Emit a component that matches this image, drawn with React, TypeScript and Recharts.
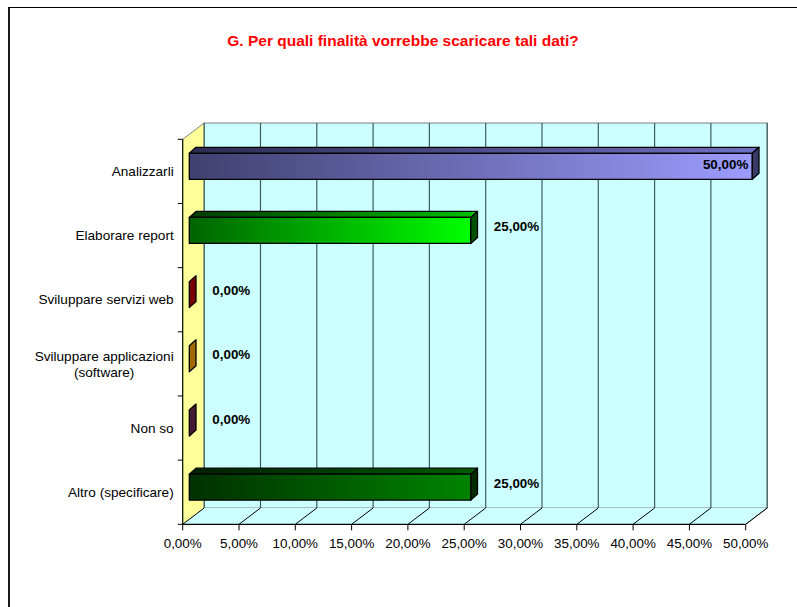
import React from "react";
import { BarChart, Bar, XAxis, YAxis, ReferenceArea, ReferenceLine, LabelList } from "recharts";

const categories = [
  "Analizzarli",
  "Elaborare report",
  "Sviluppare servizi web",
  "Sviluppare applicazioni\n(software)",
  "Non so",
  "Altro (specificare)",
];
const shares = [0.5, 0.25, 0, 0, 0, 0.25];
const xTicks = [0, 0.05, 0.1, 0.15, 0.2, 0.25, 0.3, 0.35, 0.4, 0.45, 0.5];
const xDomain = [0, 0.5];

const data = categories.map((name, i) => ({ name, value: shares[i] }));

const FONT = "Arial, 'Liberation Sans', sans-serif";
const WALL = { dx: 21.5, dy: 16.3 }; // back wall offset from the front plane
const SHIFT = { dx: 6.6, dy: 5 }; // bars sit a little behind the front plane
const DEPTH = { dx: 6.7, dy: 6 }; // bar thickness

// front gradient (left -> right), top gradient, side colour
const palette = [
  { front: ["#404070", "#9c9cff"], top: ["#2c2c52", "#7070c4"], side: "#3a3a68" },
  { front: ["#006400", "#00ff00"], top: ["#003c00", "#00c000"], side: "#005200" },
  { front: ["#5c0000", "#990000"], top: ["#400000", "#800000"], side: "#7a0000" },
  { front: ["#7a5000", "#b07800"], top: ["#5c3c00", "#9a6600"], side: "#a06a00" },
  { front: ["#351228", "#552040"], top: ["#2a0e20", "#45183a"], side: "#451a35" },
  { front: ["#003000", "#008400"], top: ["#002000", "#005c00"], side: "#002c00" },
];

const pct = (v: number) => (v * 100).toFixed(2).replace(".", ",") + "%";

let ctx: CanvasRenderingContext2D | null = null;
function textWidth(text: string, font: string) {
  if (!ctx) ctx = document.createElement("canvas").getContext("2d");
  if (!ctx) return text.length * 7;
  ctx.font = font;
  return ctx.measureText(text).width;
}

function Walls(props: any) {
  const { x, y, width, height } = props;
  const { dx, dy } = WALL;
  const bottom = y + height;
  const n = categories.length;
  const ticks = Array.from({ length: n + 1 }, (_, k) => y + (k * height) / n);
  return (
    <g>
      <polygon
        points={`${x},${y} ${x + dx},${y - dy} ${x + dx},${bottom - dy} ${x},${bottom}`}
        fill="#ffff99"
      />
      <rect x={x + dx} y={y - dy} width={width} height={height} fill="#ccffff" stroke="#808080" />
      <polygon
        points={`${x},${bottom} ${x + dx},${bottom - dy} ${x + width + dx},${bottom - dy} ${x + width},${bottom}`}
        fill="#ccffff"
      />
      <line x1={x} y1={y} x2={x + dx} y2={y - dy} stroke="#808080" />
      <line x1={x + width} y1={bottom} x2={x + width + dx} y2={bottom - dy} stroke="#808080" />
      {ticks.map((ty, k) => (
        <line key={k} x1={x - 5} y1={ty} x2={x} y2={ty} stroke="#000" />
      ))}
    </g>
  );
}

function DepthGrid(props: any) {
  const { x1, y1, y2 } = props;
  const { dx, dy } = WALL;
  const top = Math.min(y1, y2);
  const bottom = Math.max(y1, y2);
  return (
    <g>
      <line x1={x1 + dx} y1={top - dy} x2={x1 + dx} y2={bottom - dy} stroke="#3e5e5e" strokeWidth={1.2} />
      <line x1={x1} y1={bottom} x2={x1 + dx} y2={bottom - dy} stroke="#000" />
    </g>
  );
}

function Box3D(props: any) {
  const { x, y, width, height } = props;
  const idx = categories.indexOf(props.payload?.name ?? props.name);
  const c = palette[idx < 0 ? 0 : idx];
  const fx = x + SHIFT.dx;
  const fy = y - SHIFT.dy;
  const w = Math.max(width || 0, 0);
  const h = height;
  const { dx, dy } = DEPTH;
  const top = `${fx},${fy} ${fx + dx},${fy - dy} ${fx + w + dx},${fy - dy} ${fx + w},${fy}`;
  const side = `${fx + w},${fy} ${fx + w + dx},${fy - dy} ${fx + w + dx},${fy + h - dy} ${fx + w},${fy + h}`;
  return (
    <g stroke="#000" strokeWidth={1.3} strokeLinejoin="round">
      <defs>
        <linearGradient id={`front${idx}`} x1="0" y1="0" x2="1" y2="0">
          <stop offset="0" stopColor={c.front[0]} />
          <stop offset="1" stopColor={c.front[1]} />
        </linearGradient>
        <linearGradient id={`top${idx}`} x1="0" y1="0" x2="1" y2="0">
          <stop offset="0" stopColor={c.top[0]} />
          <stop offset="1" stopColor={c.top[1]} />
        </linearGradient>
      </defs>
      {w > 0 && <polygon points={top} fill={`url(#top${idx})`} />}
      {w > 0 && <rect x={fx} y={fy} width={w} height={h} fill={`url(#front${idx})`} />}
      <polygon points={side} fill={c.side} />
    </g>
  );
}

function ValueLabel(props: any) {
  const { x, y, width, height, value } = props;
  const end = x + SHIFT.dx + (width || 0);
  const cy = y - SHIFT.dy + height / 2;
  const inside = value >= xDomain[1];
  return (
    <text
      x={inside ? end - 4 : end + 23}
      y={inside ? cy - 2 : cy - 4}
      dy="0.35em"
      textAnchor={inside ? "end" : "start"}
      fontFamily={FONT}
      fontSize={13.4}
      fontWeight="bold"
      fill="#000"
    >
      {pct(value)}
    </text>
  );
}

function CategoryTick(props: any) {
  const { x, y, payload } = props;
  const lines = String(payload.value).split("\n");
  const lh = 16;
  const size = 13.6;
  const start = -((lines.length - 1) * lh) / 2;
  const w0 = textWidth(lines[0], `${size}px ${FONT}`);
  const multi = lines.length > 1;
  return (
    <g>
      {lines.map((line, i) => (
        <text
          key={i}
          x={multi ? x - w0 / 2 : x}
          y={y + start + i * lh}
          dy="0.35em"
          textAnchor={multi ? "middle" : "end"}
          fontFamily={FONT}
          fontSize={size}
          fill="#000"
        >
          {line}
        </text>
      ))}
    </g>
  );
}

export default function App() {
  return (
    <div style={{ position: "absolute", left: 0, top: 0, width: 797, height: 607, overflow: "hidden", background: "#fff" }}>
      <div
        style={{
          position: "absolute",
          left: 8,
          top: 7,
          width: 900,
          height: 700,
          borderTop: "1px solid #000",
          borderLeft: "2px solid #1a1a1a",
        }}
      />
      <div
        style={{
          position: "absolute",
          left: 0,
          top: 32,
          width: 806,
          textAlign: "center",
          fontFamily: FONT,
          fontSize: 15.5,
          lineHeight: "18px",
          fontWeight: "bold",
          color: "#ff0000",
        }}
      >
        G. Per quali finalità vorrebbe scaricare tali dati?
      </div>
      <div style={{ position: "absolute", left: 0, top: 0 }}>
        <BarChart
          width={797}
          height={607}
          data={data}
          layout="vertical"
          margin={{ top: 139.3, right: 51.3, bottom: 52.7, left: 12.7 }}
        >
          <ReferenceArea x1={xDomain[0]} x2={xDomain[1]} shape={Walls} ifOverflow="visible" zIndex={-100} />
          {xTicks.map((t) => (
            <ReferenceLine key={t} x={t} shape={DepthGrid} ifOverflow="visible" zIndex={-90} />
          ))}
          <XAxis
            type="number"
            domain={xDomain}
            ticks={xTicks}
            tickFormatter={pct}
            height={30}
            axisLine={{ stroke: "#000", strokeWidth: 1.2 }}
            tickLine={{ stroke: "#000" }}
            tickSize={6}
            tickMargin={8}
            tick={{ fill: "#000", fontSize: 13.4, fontFamily: FONT }}
            interval={0}
          />
          <YAxis
            type="category"
            dataKey="name"
            width={170}
            axisLine={{ stroke: "#000", strokeWidth: 1.2 }}
            tickLine={false}
            tickSize={5}
            tickMargin={4}
            tick={<CategoryTick />}
            interval={0}
          />
          <Bar dataKey="value" barSize={26} shape={Box3D} isAnimationActive={false}>
            <LabelList dataKey="value" content={<ValueLabel />} />
          </Bar>
        </BarChart>
      </div>
    </div>
  );
}
